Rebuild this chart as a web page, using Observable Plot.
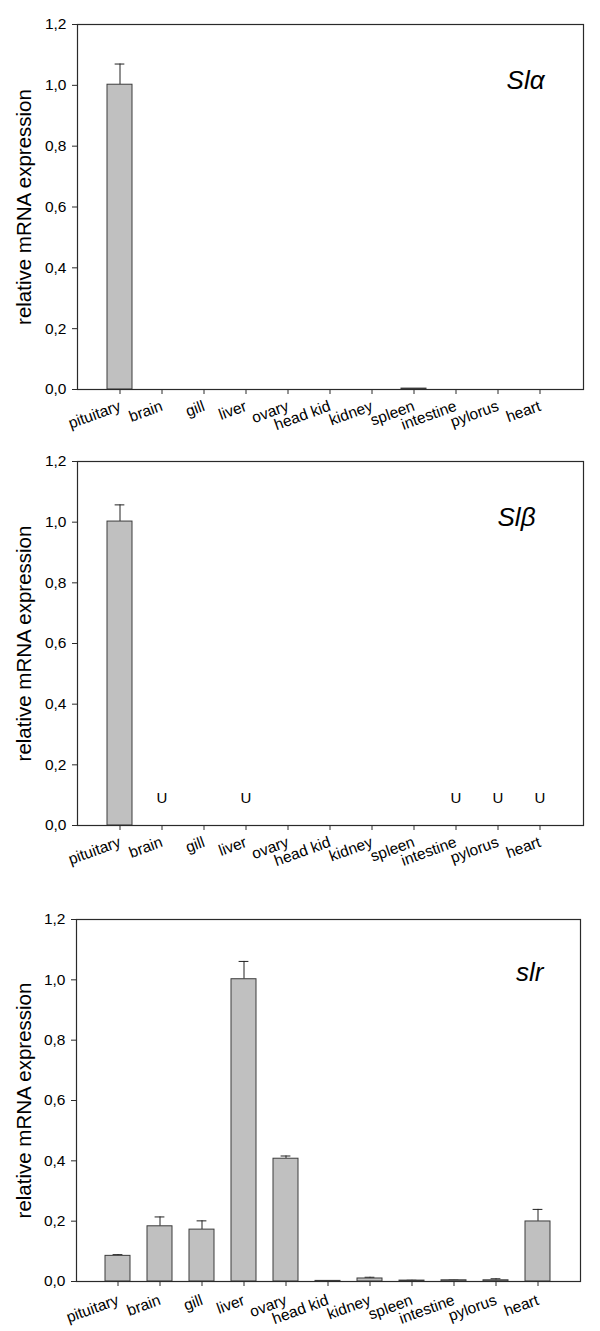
<!DOCTYPE html>
<html>
<head>
<meta charset="utf-8">
<script src="https://cdn.jsdelivr.net/npm/d3@7"></script>
<script src="https://cdn.jsdelivr.net/npm/@observablehq/plot@0.6"></script>
<style>
  html, body { margin: 0; padding: 0; background: #fff; }
  #chart > div { display: block; }
  svg { display: block; }
</style>
</head>
<body>
<div id="chart"></div>
<script>
// ---- data ----
const tissues = ["pituitary", "brain", "gill", "liver", "ovary", "head kid", "kidney", "spleen", "intestine", "pylorus", "heart"];
const yTicks = [0, 0.2, 0.4, 0.6, 0.8, 1.0, 1.2];

const slaMean = [1.002, 0, 0, 0, 0, 0, 0, 0.003, 0, 0, 0];
const slaSd   = [0.068, 0, 0, 0, 0, 0, 0, 0, 0, 0, 0];

const slbMean = [1.002, 0, 0, 0, 0, 0, 0, 0, 0, 0, 0];
const slbSd   = [0.055, 0, 0, 0, 0, 0, 0, 0, 0, 0, 0];
const slbUndetected = ["brain", "liver", "intestine", "pylorus", "heart"];
const undetectedLevel = 0.09;

const slrMean = [0.085, 0.183, 0.172, 1.002, 0.407, 0.002, 0.010, 0.003, 0.004, 0.004, 0.199];
const slrSd   = [0.004, 0.031, 0.029, 0.059, 0.009, 0.001, 0.004, 0.001, 0.001, 0.005, 0.040];

const panelTitles = ["Slα", "Slβ", "slr"];
const yTitle = "relative mRNA expression";

// ---- drawing ----
const FONT = "'Liberation Sans', Arial, Helvetica, sans-serif";
const fmt = d => d3.format(".1f")(d).replace(".", ",");

function rows(means, sds) {
  return tissues.map((t, i) => ({tissue: t, mean: means[i], sd: sds[i]}));
}

function panel({data, title, undetected = [], height, marginTop, marginBottom, marginLeft, marginRight, tickPadX, titleDx, titleDy}) {
  const bars = data.filter(d => d.mean > 0);
  const errs = data.filter(d => d.sd > 0);
  const width = 600;
  const step = (width - marginLeft - marginRight) / 12;
  const bw = step * 0.6;
  const capInset = (bw - 10) / 2;
  return Plot.plot({
    width, height, marginTop, marginBottom, marginLeft, marginRight,
    style: {fontFamily: FONT, color: "#000", background: "#fff", overflow: "visible"},
    x: {type: "band", domain: tissues, paddingInner: 0.4, paddingOuter: 0.7, align: 0.5, label: null},
    y: {domain: [0, 1.2], label: null},
    marks: [
      Plot.ruleX(errs, {x: "tissue", y1: "mean", y2: d => d.mean + d.sd, stroke: "#222", strokeWidth: 1}),
      Plot.tickY(errs, {x: "tissue", y: d => d.mean + d.sd, stroke: "#222", strokeWidth: 1, insetLeft: capInset, insetRight: capInset}),
      Plot.barY(bars, {x: "tissue", y: "mean", fill: "#c0c0c0", stroke: "#3c3c3c", strokeWidth: 1}),
      Plot.text(undetected, {x: d => d, y: () => undetectedLevel, text: () => "U", fontSize: 15, fill: "#000", lineAnchor: "middle"}),
      Plot.frame({stroke: "#2a2a2a", strokeWidth: 1.2}),
      Plot.axisY({ticks: yTicks, tickFormat: fmt, tickSize: 5, tickPadding: 6, fontSize: 15.5, label: null, stroke: "#2a2a2a"}),
      Plot.axisX({tickSize: 5, tickRotate: -20, tickPadding: tickPadX, fontSize: 15.5, label: null, stroke: "#2a2a2a"}),
      Plot.text([yTitle], {text: d => d, frameAnchor: "left", rotate: -90, dx: 24 - marginLeft, fontSize: 20.5, textAnchor: "middle", lineAnchor: "middle", fill: "#000"}),
      Plot.text([title], {text: d => d, frameAnchor: "top-right", dx: titleDx, dy: titleDy, fontSize: 26, fontStyle: "italic", textAnchor: "end", lineAnchor: "bottom", fill: "#000"})
    ]
  });
}

const chart = document.getElementById("chart");
chart.append(panel({data: rows(slaMean, slaSd), title: panelTitles[0],
  height: 440, marginTop: 24, marginBottom: 51, marginLeft: 77, marginRight: 17, tickPadX: 11, titleDx: -39, titleDy: 64}));
chart.append(panel({data: rows(slbMean, slbSd), title: panelTitles[1], undetected: slbUndetected,
  height: 440, marginTop: 21, marginBottom: 55, marginLeft: 77, marginRight: 17, tickPadX: 11, titleDx: -48, titleDy: 64}));
chart.append(panel({data: rows(slrMean, slrSd), title: panelTitles[2],
  height: 451, marginTop: 39, marginBottom: 50, marginLeft: 76, marginRight: 20, tickPadX: 13, titleDx: -37, titleDy: 61}));
</script>
</body>
</html>
